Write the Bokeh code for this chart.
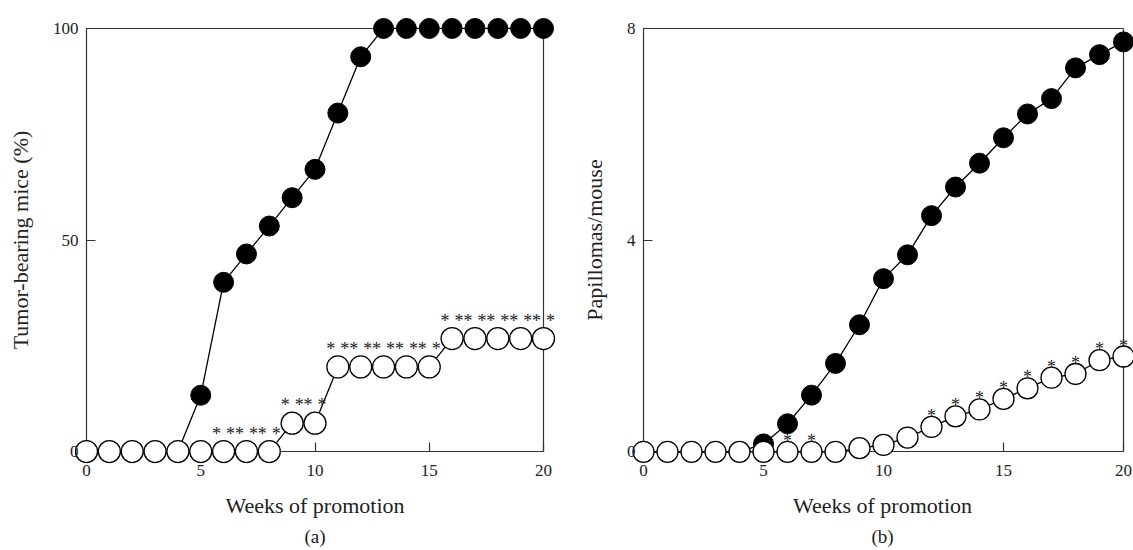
from bokeh.plotting import figure
from bokeh.models import Range1d, LinearAxis, FixedTicker, Title
from bokeh.layouts import row
from bokeh.embed import file_html
from bokeh.resources import INLINE
from bokeh.core.properties import value

# ---------------- data ----------------
weeks = list(range(21))
x_ticks = [0, 5, 10, 15, 20]

# (a) Tumor-bearing mice (%)
a_filled = [0, 0, 0, 0, 0, 13.3, 40, 46.7, 53.3, 60, 66.7, 80, 93.3,
            100, 100, 100, 100, 100, 100, 100, 100]
a_open = [0, 0, 0, 0, 0, 0, 0, 0, 0, 6.7, 6.7, 20, 20, 20, 20, 20,
          26.7, 26.7, 26.7, 26.7, 26.7]
a_star_weeks = [6, 7, 8, 9, 10, 11, 12, 13, 14, 15, 16, 17, 18, 19, 20]
a_y_ticks = [0, 50, 100]

# (b) Papillomas/mouse
b_filled = [0, 0, 0, 0, 0, 0.15, 0.53, 1.07, 1.67, 2.4, 3.27, 3.72, 4.46,
            5.0, 5.45, 5.93, 6.38, 6.67, 7.25, 7.5, 7.74]
b_open = [0, 0, 0, 0, 0, 0, 0, 0, 0, 0.07, 0.13, 0.27, 0.47, 0.67, 0.8,
          1.0, 1.2, 1.4, 1.47, 1.73, 1.8]
b_star_weeks = [6, 7, 12, 13, 14, 15, 16, 17, 18, 19, 20]
b_y_ticks = [0, 4, 8]

SERIF = "Liberation Serif"
INK = "#222222"
AX = "#333333"


def style(ax, level="guide"):
    ax.level = level
    ax.axis_line_color = AX
    ax.axis_line_width = 1.2
    ax.major_tick_line_color = AX
    ax.major_tick_line_width = 1.2
    ax.major_tick_in = 9
    ax.major_tick_out = 0
    ax.minor_tick_line_color = None
    ax.major_label_text_font = SERIF
    ax.major_label_text_font_size = "17px"
    ax.major_label_text_color = INK
    ax.axis_label_text_font = SERIF
    ax.axis_label_text_font_size = "22px"
    ax.axis_label_text_font_style = "normal"
    ax.axis_label_text_color = INK


def line_axis(ticks, loc, bounds):
    """Axis line + inward ticks on the data box edge, beneath the markers."""
    ax = LinearAxis(fixed_location=loc, bounds=bounds,
                    ticker=FixedTicker(ticks=ticks), major_label_standoff=0)
    style(ax, "underlay")
    ax.major_label_text_font_size = "0px"
    ax.major_label_text_color = None
    return ax


def label_axis(ticks, bounds, standoff):
    """Tick labels only (frame edge, pulled back onto the box edge)."""
    ax = LinearAxis(bounds=bounds, ticker=FixedTicker(ticks=ticks),
                    major_label_standoff=standoff)
    style(ax)
    ax.axis_line_color = None
    ax.major_tick_line_color = None
    return ax


def title_axis(text, bounds, standoff):
    ax = LinearAxis(ticker=FixedTicker(ticks=[]), bounds=bounds,
                    axis_label=text, axis_label_standoff=standoff)
    style(ax)
    ax.axis_line_color = None
    return ax


def make_panel(fig_w, fig_h, box, pads, y_max, y_ticks, y_label, panel_label,
               label_offset, filled, opn, star_weeks, star_offsets, star_dy,
               filled_size, open_size, ylab_standoff, xlab_standoff,
               title_standoff):
    box_l, box_r, box_t, box_b = box
    pad_l, pad_r, pad_t, pad_b = pads
    ppx = (box_r - box_l) / 20.0
    ppy = (box_b - box_t) / float(y_max)
    p = figure(width=fig_w, height=fig_h,
               x_range=Range1d(-pad_l / ppx, 20 + pad_r / ppx),
               y_range=Range1d(-pad_b / ppy, y_max + pad_t / ppy),
               output_backend="svg", toolbar_location=None, tools="",
               x_axis_type=None, y_axis_type=None,
               min_border_left=box_l - pad_l,
               min_border_right=fig_w - box_r - pad_r,
               min_border_top=box_t - pad_t,
               min_border_bottom=fig_h - box_b - pad_b)
    p.outline_line_color = None
    p.background_fill_color = "white"
    p.border_fill_color = "white"

    # bottom: box line + ticks, tick labels, axis title
    p.add_layout(line_axis(x_ticks, 0, (0, 20)), "below")
    p.add_layout(line_axis([], y_max, (0, 20)), "below")      # top edge of box
    p.add_layout(label_axis(x_ticks, (0, 20), 13 - pad_b), "below")
    p.add_layout(title_axis("Weeks of promotion", (0, 20), xlab_standoff), "below")
    # left
    p.add_layout(line_axis(y_ticks, 0, (0, y_max)), "left")
    p.add_layout(line_axis([], 20, (0, y_max)), "left")       # right edge of box
    p.add_layout(label_axis(y_ticks, (0, y_max), 8 - pad_l), "left")
    p.add_layout(title_axis(y_label, (0, y_max), ylab_standoff), "left")

    t = Title(text=panel_label, align="center", offset=label_offset,
              standoff=title_standoff, text_font=SERIF, text_font_size="19px",
              text_font_style="normal", text_color=INK)
    p.add_layout(t, "below")

    p.line(weeks, filled, line_color="black", line_width=1.3)
    p.scatter(weeks, filled, size=filled_size, fill_color="black",
              line_color="black", line_width=1)
    p.line(weeks, opn, line_color="black", line_width=1.3)
    p.scatter(weeks, opn, size=open_size, fill_color="white",
              line_color="black", line_width=1.3)

    sy = [opn[w] for w in star_weeks]
    for dx in star_offsets:
        p.text(star_weeks, sy, text=["*"] * len(star_weeks), x_offset=dx,
               y_offset=star_dy, text_align="center",
               text_baseline="alphabetic", text_font=value(SERIF),
               text_font_size=value("18px"), text_color="#222222")
    return p


pa = make_panel(fig_w=565, fig_h=550, box=(86, 543, 28, 453),
                pads=(12, 12, 12, 12), y_max=100, y_ticks=a_y_ticks,
                y_label="Tumor-bearing mice (%)", panel_label="(a)",
                label_offset=-32, filled=a_filled, opn=a_open,
                star_weeks=a_star_weeks, star_offsets=(-7, 7), star_dy=-18,
                filled_size=20, open_size=22, ylab_standoff=17,
                xlab_standoff=14, title_standoff=7)

pb = make_panel(fig_w=568, fig_h=550, box=(78, 558, 19, 455),
                pads=(12, 10, 12, 12), y_max=8, y_ticks=b_y_ticks,
                y_label="Papillomas/mouse", panel_label="(b)",
                label_offset=-24, filled=b_filled, opn=b_open,
                star_weeks=b_star_weeks, star_offsets=(0,), star_dy=-11,
                filled_size=20, open_size=21, ylab_standoff=17,
                xlab_standoff=14, title_standoff=7)

layout = row(pa, pb)
open("out.html", "w").write(file_html(layout, INLINE))
